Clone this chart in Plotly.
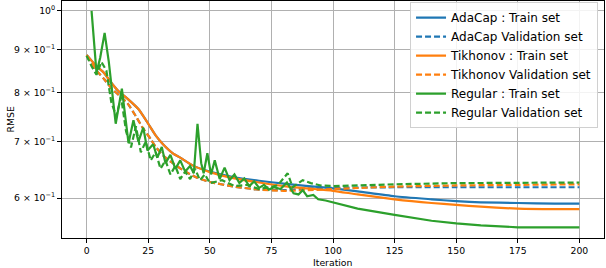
import plotly.graph_objects as go

# ---- data ----
ada_train_x = [0, 4, 7, 10, 13, 17, 21, 25, 28, 31, 35, 38, 43, 50, 60, 70, 80, 90, 100, 110, 125, 140, 150, 160, 175, 190, 200]
ada_train_y = [0.887, 0.86, 0.845, 0.822, 0.803, 0.785, 0.765, 0.735, 0.712, 0.695, 0.678, 0.67, 0.656, 0.645, 0.635, 0.629, 0.624, 0.62, 0.616, 0.611, 0.603, 0.598, 0.595, 0.593, 0.592, 0.591, 0.591]

ada_val_x = [0, 4, 7, 10, 13, 16.6, 20, 23, 26, 28, 32, 35, 40, 45, 50, 60, 70, 80, 90, 100, 125, 150, 175, 200]
ada_val_y = [0.885, 0.85, 0.831, 0.81, 0.795, 0.777, 0.75, 0.725, 0.705, 0.69, 0.67, 0.66, 0.645, 0.634, 0.627, 0.619, 0.614, 0.613, 0.616, 0.617, 0.618, 0.618, 0.618, 0.618]

tik_train_x = [0, 4, 7, 10, 13, 17, 21, 25, 28, 31, 35, 38, 43, 50, 60, 70, 80, 90, 100, 110, 125, 140, 150, 160, 175, 190, 200]
tik_train_y = [0.887, 0.86, 0.845, 0.822, 0.803, 0.785, 0.765, 0.735, 0.712, 0.695, 0.678, 0.67, 0.656, 0.644, 0.633, 0.626, 0.62, 0.616, 0.612, 0.606, 0.598, 0.592, 0.589, 0.586, 0.583, 0.582, 0.582]

tik_val_x = [0, 4, 7, 10, 13, 16.6, 20, 23, 26, 28, 32, 35, 40, 45, 50, 60, 70, 80, 90, 100, 125, 150, 175, 200]
tik_val_y = [0.885, 0.85, 0.831, 0.81, 0.795, 0.777, 0.75, 0.725, 0.705, 0.69, 0.67, 0.66, 0.645, 0.634, 0.627, 0.619, 0.614, 0.612, 0.613, 0.615, 0.619, 0.621, 0.622, 0.623]

reg_train_x = [2, 4, 5.5, 7.3, 9, 11.8, 14.3, 17, 19, 21, 23, 24.7, 27, 28.7, 30.5, 32, 34, 36, 38, 40, 42, 43.5, 45, 46.5, 47.5, 49, 50.5, 52, 54, 56, 58, 60, 62, 64, 66, 68, 70, 72, 74, 76, 78.7, 81.3, 84, 86, 87.7, 89.5, 92, 94, 97, 100, 110, 125, 140, 150, 160, 175, 190, 200]
reg_train_y = [1.0, 0.845, 0.88, 0.942, 0.87, 0.735, 0.809, 0.697, 0.742, 0.70, 0.727, 0.683, 0.695, 0.67, 0.69, 0.66, 0.675, 0.65, 0.665, 0.645, 0.655, 0.642, 0.735, 0.66, 0.642, 0.678, 0.64, 0.665, 0.632, 0.652, 0.63, 0.64, 0.625, 0.633, 0.62, 0.628, 0.617, 0.622, 0.614, 0.618, 0.615, 0.626, 0.608, 0.606, 0.613, 0.603, 0.605, 0.598, 0.596, 0.593, 0.583, 0.573, 0.564, 0.56, 0.557, 0.554, 0.554, 0.554]

reg_val_x = [0, 2, 4, 6, 8, 10, 12, 14, 16, 18, 20, 22, 24, 26, 28, 30, 32, 34, 36, 38, 40, 42, 44, 46, 48, 50, 55, 60, 65, 70, 74, 77.5, 81.6, 83.6, 87.7, 91, 95, 100, 110, 125, 150, 175, 200]
reg_val_y = [0.885, 0.86, 0.84, 0.87, 0.85, 0.78, 0.75, 0.79, 0.72, 0.689, 0.73, 0.68, 0.70, 0.665, 0.68, 0.65, 0.665, 0.64, 0.655, 0.632, 0.645, 0.632, 0.65, 0.63, 0.64, 0.625, 0.63, 0.62, 0.622, 0.615, 0.618, 0.621, 0.642, 0.618, 0.63, 0.625, 0.621, 0.62, 0.621, 0.623, 0.625, 0.626, 0.626]

y_tick_vals = [0.6, 0.7, 0.8, 0.9, 1.0]
y_tick_text = ["6 × 10<sup>−1</sup>", "7 × 10<sup>−1</sup>", "8 × 10<sup>−1</sup>", "9 × 10<sup>−1</sup>", "10<sup>0</sup>"]
x_tick_vals = [0, 25, 50, 75, 100, 125, 150, 175, 200]

BLUE, ORANGE, GREEN = "#1f77b4", "#ff7f0e", "#2ca02c"
DASH = "6px,3px"
LW = 2.2

fig = go.Figure()
series = [
    ("AdaCap : Train set", ada_train_x, ada_train_y, BLUE, "solid", "spline"),
    ("AdaCap Validation set", ada_val_x, ada_val_y, BLUE, DASH, "spline"),
    ("Tikhonov : Train set", tik_train_x, tik_train_y, ORANGE, "solid", "spline"),
    ("Tikhonov Validation set", tik_val_x, tik_val_y, ORANGE, DASH, "spline"),
    ("Regular : Train set", reg_train_x, reg_train_y, GREEN, "solid", "linear"),
    ("Regular Validation set", reg_val_x, reg_val_y, GREEN, DASH, "linear"),
]
for name, xs, ys, col, dash, shape in series:
    fig.add_trace(go.Scatter(
        x=xs, y=ys, mode="lines", name=name,
        line=dict(color=col, width=LW, dash=dash, shape=shape, smoothing=0.6 if shape == "spline" else None),
    ))

axis_common = dict(
    showline=True, linecolor="black", linewidth=1, mirror=True,
    ticks="outside", ticklen=4, tickcolor="black", tickwidth=1,
    showgrid=True, gridcolor="#b0b0b0", gridwidth=1,
    zeroline=False, automargin=False,
    tickfont=dict(family="DejaVu Sans", size=9.3, color="black"),
)

fig.update_layout(
    width=606, height=268,
    margin=dict(l=62, r=2, t=1, b=30),
    paper_bgcolor="white", plot_bgcolor="white",
    font=dict(family="DejaVu Sans", color="black"),
    xaxis=dict(range=[-10, 210], tickvals=x_tick_vals, **axis_common),
    yaxis=dict(type="log", range=[-0.2692, 0.0118], tickvals=y_tick_vals, ticktext=y_tick_text,
               **axis_common),
    legend=dict(x=0.989, y=0.995, xanchor="right", yanchor="top",
                bgcolor="rgba(255,255,255,0.85)", bordercolor="#d0d0d0", borderwidth=1,
                font=dict(family="DejaVu Sans", size=12, color="black"),
                tracegroupgap=0, itemwidth=30),
    showlegend=True,
    annotations=[
        dict(text="Iteration", xref="paper", yref="paper", x=0.5, y=0, yshift=-24,
             xanchor="center", yanchor="middle", showarrow=False,
             font=dict(family="DejaVu Sans", size=9.3, color="black")),
        dict(text="RMSE", xref="paper", yref="paper", x=0, y=0.5, xshift=-52,
             xanchor="center", yanchor="middle", showarrow=False, textangle=-90,
             font=dict(family="DejaVu Sans", size=9.3, color="black")),
    ],
)

fig.write_html("out.html", config={"displayModeBar": False},
               post_script="document.body.style.margin='0px';")
